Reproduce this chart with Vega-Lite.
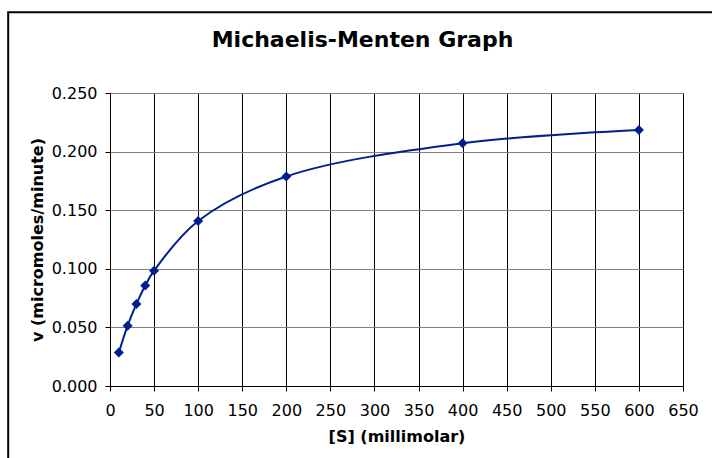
{
  "$schema": "https://vega.github.io/schema/vega-lite/v6.json",
  "width": 573,
  "height": 293,
  "autosize": "none",
  "padding": {"left": 110, "top": 93, "right": 29, "bottom": 72},
  "background": "white",
  "title": {
    "text": "Michaelis-Menten Graph",
    "font": "DejaVu Sans",
    "fontSize": 22,
    "fontWeight": "bold",
    "color": "#000000",
    "anchor": "middle",
    "baseline": "alphabetic",
    "dx": -34,
    "dy": 62
  },
  "config": {
    "view": {"stroke": "#808080", "strokeWidth": 1},
    "axis": {
      "labelFont": "DejaVu Sans",
      "labelFontSize": 16,
      "labelColor": "#000000",
      "titleFont": "DejaVu Sans",
      "titleFontSize": 16,
      "titleFontWeight": "bold",
      "titleColor": "#000000",
      "domainColor": "#000000",
      "tickColor": "#000000",
      "tickSize": 5,
      "gridWidth": 1
    }
  },
  "data": {
    "values": [
      {"S": 10, "v": 0.0285},
      {"S": 20, "v": 0.0515},
      {"S": 30, "v": 0.070},
      {"S": 40, "v": 0.0858},
      {"S": 50, "v": 0.0984},
      {"S": 100, "v": 0.1408},
      {"S": 200, "v": 0.1788},
      {"S": 400, "v": 0.2072},
      {"S": 600, "v": 0.2185}
    ]
  },
  "layer": [
    {
      "data": {"values": [{}]},
      "mark": {"type": "rect", "fill": null, "stroke": "#000000", "strokeWidth": 2, "clip": false},
      "encoding": {
        "x": {"datum": -115.5, "type": "quantitative", "scale": {"domain": [0, 650], "nice": false, "zero": false}},
        "x2": {"datum": 720},
        "y": {"datum": 0.3188, "type": "quantitative", "scale": {"domain": [0, 0.25], "nice": false, "zero": false}},
        "y2": {"datum": -0.08}
      }
    },
    {
      "mark": {"type": "line", "interpolate": "catmull-rom", "color": "#001f8f", "strokeWidth": 2},
      "encoding": {
        "x": {
          "field": "S",
          "type": "quantitative",
          "scale": {"domain": [0, 650], "nice": false, "zero": false},
          "axis": {
            "title": "[S] (millimolar)",
            "values": [0, 50, 100, 150, 200, 250, 300, 350, 400, 450, 500, 550, 600, 650],
            "grid": true,
            "gridColor": "#000000",
            "labelPadding": 11,
            "titlePadding": 10,
            "labelFlush": false,
            "labelOverlap": false
          }
        },
        "y": {
          "field": "v",
          "type": "quantitative",
          "scale": {"domain": [0, 0.25], "nice": false, "zero": false},
          "axis": {
            "title": "v (micromoles/minute)",
            "values": [0, 0.05, 0.1, 0.15, 0.2, 0.25],
            "format": ".3f",
            "grid": true,
            "gridColor": "#808080",
            "labelPadding": 8,
            "titlePadding": 6,
            "labelFlush": false,
            "labelOverlap": false
          }
        }
      }
    },
    {
      "mark": {"type": "point", "shape": "diamond", "filled": true, "size": 100, "color": "#001f8f", "opacity": 1},
      "encoding": {
        "x": {"field": "S", "type": "quantitative"},
        "y": {"field": "v", "type": "quantitative"}
      }
    }
  ]
}
